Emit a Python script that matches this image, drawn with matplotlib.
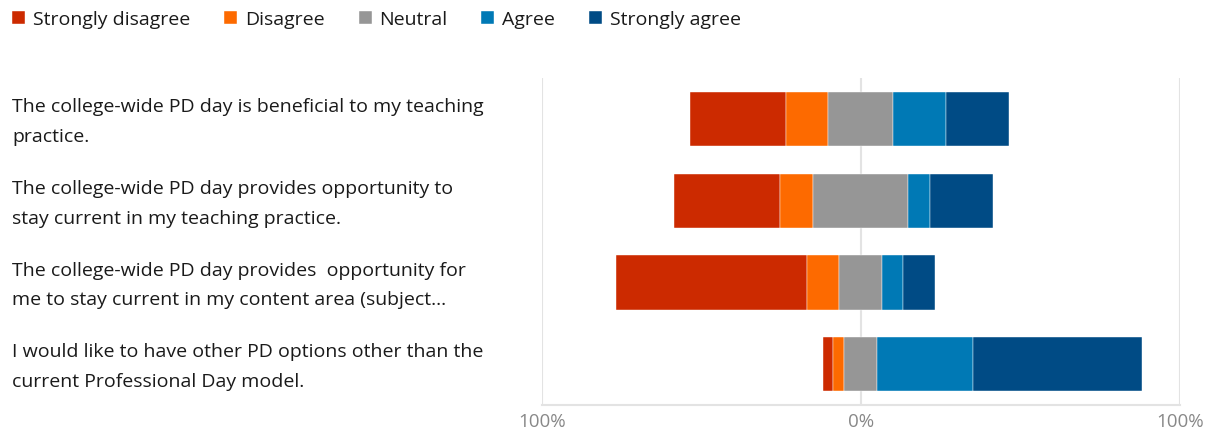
import matplotlib.pyplot as plt
import numpy as np

plt.rcParams["font.family"] = ["Open Sans", "DejaVu Sans"]

questions = [
    "The college-wide PD day is beneficial to my teaching\npractice.",
    "The college-wide PD day provides opportunity to\nstay current in my teaching practice.",
    "The college-wide PD day provides  opportunity for\nme to stay current in my content area (subject...",
    "I would like to have other PD options other than the\ncurrent Professional Day model.",
]
responses = ["Strongly disagree", "Disagree", "Neutral", "Agree", "Strongly agree"]
colors = ["#cc2a00", "#fd6a00", "#969696", "#0079b5", "#004b85"]

# percent of respondents per answer, one list per question
strongly_disagree = [29.9, 33.3, 59.9, 3.1]
disagree = [13.4, 10.3, 10.0, 3.4]
neutral = [20.3, 29.8, 13.6, 10.3]
agree = [16.5, 6.8, 6.5, 30.0]
strongly_agree = [19.9, 19.9, 10.0, 53.1]

series = np.array([strongly_disagree, disagree, neutral, agree, strongly_agree])

fig = plt.figure(figsize=(12.09, 4.36), dpi=100)
ax = fig.add_axes([0.448, 0.0711, 0.5277, 0.7495])

y = np.arange(len(questions))
left = -(series[0] + series[1] + series[2] / 2)
for vals, col, name in zip(series, colors, responses):
    ax.barh(y, vals, left=left, height=0.667, color=col, label=name,
            edgecolor="white", linewidth=0.3, zorder=3)
    left = left + vals

ax.set_xlim(-100, 100)
ax.set_ylim(3.5, -0.5)
ax.set_yticks([])
ax.set_xticks([-100, 0, 100])
ax.set_xticklabels(["100%", "0%", "100%"])
ax.tick_params(axis="x", length=0, pad=6, labelsize=13.5, labelcolor="#888888")
ax.grid(axis="x", color="#e3e3e3", linewidth=1.5, zorder=0)
for s in ["top", "right", "left"]:
    ax.spines[s].set_visible(False)
ax.spines["bottom"].set_color("#e3e3e3")
ax.spines["bottom"].set_linewidth(1.5)

# question labels, nudged a touch down to sit level with the bars
trans = ax.get_yaxis_transform()
for i, q in enumerate(questions):
    ax.text(-0.830, i + 0.037, q, transform=trans, ha="left", va="center",
            fontsize=14, color="#1a1a1a", linespacing=1.82)

handles, labels = ax.get_legend_handles_labels()
fig.legend(handles, labels, loc="center left", bbox_to_anchor=(0.0099, 0.955),
           ncol=5, frameon=False, fontsize=14, handlelength=0.67,
           handleheight=0.67, handletextpad=0.4, columnspacing=1.75,
           borderaxespad=0, borderpad=0, labelcolor="#1a1a1a")

fig.savefig("out.png", dpi=100)
